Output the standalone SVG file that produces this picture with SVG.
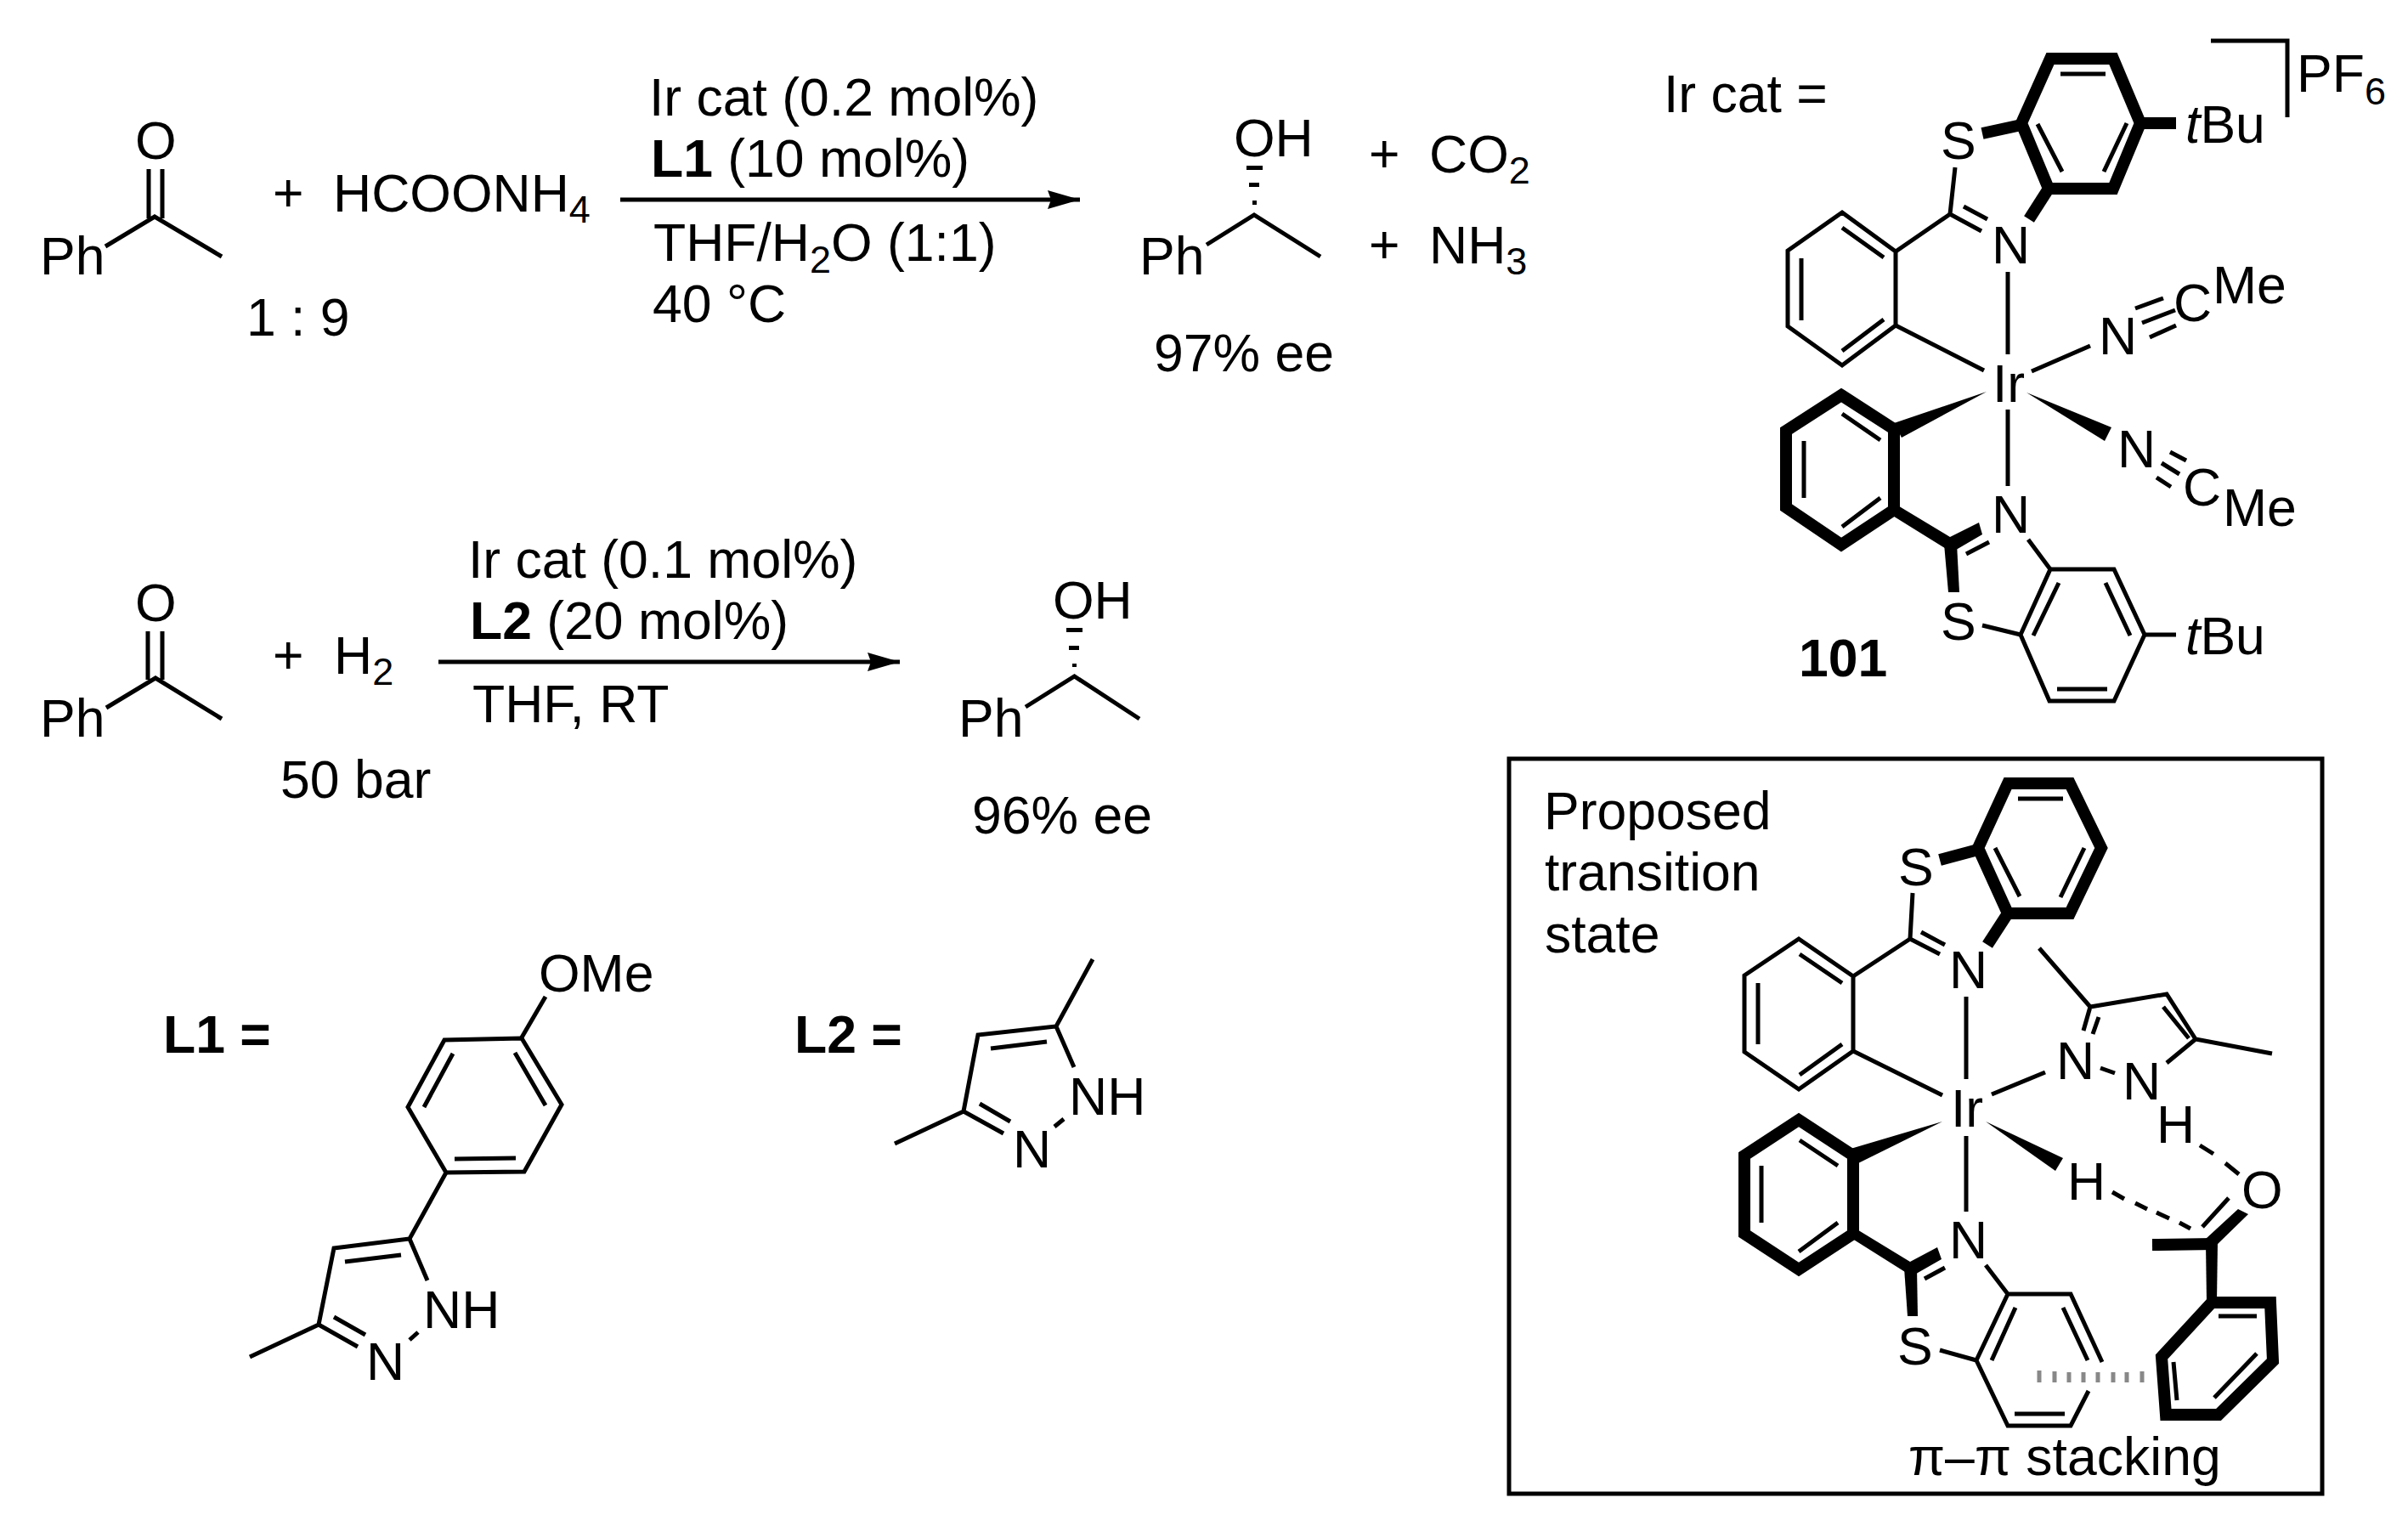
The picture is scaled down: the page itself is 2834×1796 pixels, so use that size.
<svg xmlns="http://www.w3.org/2000/svg" width="2834" height="1796" viewBox="0 0 2834 1796">
<style>
text{font-family:"Liberation Sans",Arial,sans-serif;font-size:62.5px;fill:#000}
.b{font-weight:bold}
.i{font-style:italic}
path,polygon.o,line{fill:none;stroke:#000;stroke-width:5;stroke-linecap:butt;stroke-linejoin:miter}
.h{stroke-width:14}
.g{stroke:#888;stroke-width:5}
polygon.w,rect.w{fill:#000;stroke:none}
polygon.o{stroke-width:5}
polygon.h{stroke-width:14}
</style>
<defs>
<marker id="ah" markerUnits="userSpaceOnUse" markerWidth="40" markerHeight="24" refX="38" refY="11" orient="auto"><path d="M0 0L38 11L0 22L4 11Z" style="fill:#000;stroke:none"/></marker>
</defs>
<rect width="2834" height="1796" fill="#fff"/>

<g id="connectors">
<line x1="730" y1="235" x2="1271" y2="235" marker-end="url(#ah)"/>
<line x1="516" y1="779" x2="1059" y2="779" marker-end="url(#ah)"/>
</g>

<g id="ketone1">
<text x="47" y="323">Ph</text>
<text x="159" y="187">O</text>
<path d="M175 199V257M191 199V257M124 290L182 255L261 302"/>
</g>
<g id="reagent1">
<text x="321" y="249">+</text>
<text x="392" y="249">HCOONH<tspan font-size="45" dy="13">4</tspan></text>
<text x="290" y="395">1 : 9</text>
</g>
<g id="conditions1">
<text x="764" y="136">Ir cat (0.2 mol%)</text>
<text x="766" y="208"><tspan class="b">L1</tspan> (10 mol%)</text>
<text x="769" y="307">THF/H<tspan font-size="45" dy="14">2</tspan><tspan dy="-14">O (1:1)</tspan></text>
<text x="768" y="379">40 °C</text>
</g>
<g id="product1">
<text x="1341" y="323">Ph</text>
<text x="1452" y="184">OH</text>
<path d="M1420 288L1476 253L1554 302"/>
<rect class="w" x="1467" y="195" width="19" height="5"/>
<rect class="w" x="1470" y="215" width="12" height="5"/>
<rect class="w" x="1474" y="236" width="5" height="5"/>
<text x="1611" y="203">+</text>
<text x="1682" y="203">CO<tspan font-size="45" dy="13">2</tspan></text>
<text x="1611" y="310">+</text>
<text x="1682" y="310">NH<tspan font-size="45" dy="13">3</tspan></text>
<text x="1358" y="437">97% ee</text>
</g>

<g id="ketone2">
<text x="47" y="867">Ph</text>
<text x="159" y="731">O</text>
<path d="M174 743V800M191 743V800M125 833L183 798L261 846"/>
</g>
<g id="reagent2">
<text x="321" y="793">+</text>
<text x="393" y="793">H<tspan font-size="45" dy="13">2</tspan></text>
<text x="330" y="939">50 bar</text>
</g>
<g id="conditions2">
<text x="551" y="680">Ir cat (0.1 mol%)</text>
<text x="553" y="752"><tspan class="b">L2</tspan> (20 mol%)</text>
<text x="556" y="850">THF, RT</text>
</g>
<g id="product2">
<text x="1128" y="867">Ph</text>
<text x="1239" y="728">OH</text>
<path d="M1207 832L1264.5 796L1341 846"/>
<rect class="w" x="1255" y="739" width="19" height="5"/>
<rect class="w" x="1258" y="760" width="12" height="5"/>
<rect class="w" x="1262" y="781" width="5" height="4"/>
<text x="1144" y="981">96% ee</text>
</g>

<g id="catalyst">
<text x="1958" y="132">Ir cat =</text>
<path d="M2602 48H2692V138"/>
<text x="2703" y="108">PF<tspan font-size="45" dy="15">6</tspan></text>
<polygon class="o h" points="2413,69 2487,69 2519,145 2487,222 2411,222 2379,145"/>
<path d="M2425 87H2478M2398 146L2427 202M2503 145L2476 202"/>
<line class="h" x1="2379" y1="147" x2="2333" y2="157"/>
<line class="h" x1="2519" y1="145" x2="2561" y2="145"/>
<line class="h" x1="2411" y1="222" x2="2388" y2="258"/>
<text x="2284" y="187">S</text>
<path d="M2301 197L2295 252M2311 243L2339 258M2295 252L2332 272"/>
<text x="2344" y="310">N</text>
<polygon class="o" points="2168,250 2231,296 2231,383 2168,430 2104,384 2104,295"/>
<path d="M2168 268L2217 303M2120 304V377M2168 413L2217 376M2231 296L2295 252M2231 383L2335 436"/>
<path d="M2363 320V417M2363 482V572"/>
<text x="2345" y="473">Ir</text>
<path d="M2391 437L2460 407"/>
<text x="2470" y="417">N</text>
<path d="M2513 363L2546 351M2521 380L2560 365M2530 397L2561 383"/>
<text x="2558" y="378">C</text>
<text x="2604" y="357">Me</text>
<text x="2572" y="168"><tspan class="i">t</tspan>Bu</text>
<polygon class="o h" points="2167,465 2229,505 2229,600 2167,641 2102,597 2102,507"/>
<path d="M2168 487L2213 518M2123 519V586M2168 620L2213 586"/>
<polygon class="w" points="2338,461 2229,498 2238,515"/>
<polygon class="w" points="2385,462 2485,503 2477,519"/>
<text x="2492" y="550">N</text>
<path d="M2554 532L2573 542M2544 545L2565 558M2538 562L2555 573"/>
<text x="2569" y="595">C</text>
<text x="2616" y="619">Me</text>
<text x="2344" y="627">N</text>
<path d="M2314 652L2341 638"/>
<polygon class="w" points="2232,594 2295,632 2329,615 2333,629 2297,650 2226,606"/>
<polygon class="w" points="2288,640 2303,640 2306,697 2293,697"/>
<text x="2284" y="753">S</text>
<path d="M2333 736L2378 747M2387 635L2413 670"/>
<polygon class="o" points="2413,670 2488,670 2524,747 2488,825 2412,825 2378,747"/>
<path d="M2423 686L2393 748M2478 686L2507 748M2421 811H2480M2524 747H2561"/>
<text x="2572" y="770"><tspan class="i">t</tspan>Bu</text>
<text class="b" x="2117" y="796">101</text>
</g>

<g id="transition-state">
<rect x="1776" y="893" width="957" height="865" style="fill:none;stroke:#000;stroke-width:5"/>
<text x="1817" y="976">Proposed</text>
<text x="1818" y="1048">transition</text>
<text x="1818" y="1121">state</text>
<polygon class="o h" points="2363,922 2436,922 2473,998 2436,1075 2363,1075 2328,998"/>
<path d="M2375 940H2428M2348 998L2377 1055M2453 998L2425 1056"/>
<line class="h" x1="2328" y1="1000" x2="2283" y2="1012"/>
<line class="h" x1="2363" y1="1075" x2="2339" y2="1112"/>
<text x="2234" y="1042">S</text>
<path d="M2251 1051L2248 1105M2261 1097L2289 1112M2248 1105L2283 1123"/>
<text x="2294" y="1163">N</text>
<polygon class="o" points="2117,1105 2181,1149 2181,1237 2117,1282 2053,1238 2053,1148"/>
<path d="M2118 1123L2168 1157M2069 1157V1229M2118 1265L2168 1229M2181 1149L2248 1105M2181 1237L2286 1289"/>
<path d="M2314 1173V1270M2314 1337V1426"/>
<text x="2296" y="1326">Ir</text>
<path d="M2344 1288L2407 1262"/>
<text x="2420" y="1270">N</text>
<path d="M2472 1257L2489 1263"/>
<text x="2498" y="1294">N</text>
<path d="M2400 1116L2460 1185L2550 1170L2584 1223L2674 1240M2460 1185L2452 1213M2470 1197L2463 1217M2546 1185L2576 1222M2584 1223L2550 1251"/>
<text x="2538" y="1345">H</text>
<path d="M2589 1348L2605 1358M2619 1369L2635 1382"/>
<polygon class="o h" points="2117,1318 2181,1360 2181,1452 2117,1494 2053,1452 2053,1360"/>
<path d="M2118 1342L2163 1372M2073 1372V1439M2117 1473L2163 1439"/>
<polygon class="w" points="2286,1320 2178,1352 2187,1369"/>
<polygon class="w" points="2337,1320 2428,1363 2419,1378"/>
<text x="2433" y="1412">H</text>
<path d="M2486 1403L2500 1411M2513 1416L2527 1423M2538 1427L2553 1434M2565 1439L2578 1446"/>
<text x="2294" y="1481">N</text>
<polygon class="w" points="2184,1446 2248,1485 2280,1468 2285,1482 2250,1502 2177,1456"/>
<path d="M2265 1505L2289 1492"/>
<polygon class="w" points="2241,1492 2256,1492 2257,1549 2245,1549"/>
<text x="2233" y="1606">S</text>
<path d="M2283 1589L2326 1601M2337 1489L2363 1523M2474 1603L2437 1523H2363L2326 1601L2363 1678H2437L2458 1637"/>
<path d="M2372 1539L2344 1601M2428 1539L2457 1601M2371 1664H2430"/>
<path class="g" d="M2400 1613V1627M2418 1614V1627M2435 1615V1627M2452 1615V1627M2469 1615V1627M2487 1615V1627M2503 1615V1627M2521 1614V1627"/>
<text x="2638" y="1422">O</text>
<polygon class="w" points="2596,1458 2634,1423 2646,1429 2606,1468"/>
<path d="M2592 1444L2623 1410"/>
<line class="h" x1="2606" y1="1464" x2="2533" y2="1465"/>
<polygon class="w" points="2596,1462 2610,1462 2609,1532 2597,1532"/>
<polygon class="o h" points="2603,1533 2672,1533 2675,1602 2611,1665 2549,1665 2544,1597"/>
<path d="M2611 1549H2656M2656 1593L2606 1645M2558 1603L2562 1648"/>
<text x="2246" y="1736">π–π stacking</text>
</g>

<g id="ligand-L1">
<text class="b" x="192" y="1239">L1 =</text>
<text x="634" y="1167">OMe</text>
<path d="M642 1173L614 1221"/>
<polygon class="o" points="614,1222 523,1224 480,1303 525,1380 617,1379 661,1300"/>
<path d="M533 1240L499 1303M606 1239L642 1301M535 1364L607 1363M525 1380L482 1458L393 1469L375 1559L294 1597M482 1458L503 1507M375 1559L421 1585M393 1550L430 1571M406 1485L472 1477M492 1568L482 1577"/>
<text x="498" y="1563">NH</text>
<text x="431" y="1624">N</text>
</g>
<g id="ligand-L2">
<text class="b" x="935" y="1239">L2 =</text>
<path d="M1286 1129L1243 1208L1151 1218L1134 1308L1053 1346M1243 1208L1264 1256M1134 1308L1181 1334M1153 1299L1189 1320M1166 1234L1232 1226M1252 1317L1241 1326"/>
<text x="1258" y="1312">NH</text>
<text x="1192" y="1374">N</text>
</g>
</svg>
